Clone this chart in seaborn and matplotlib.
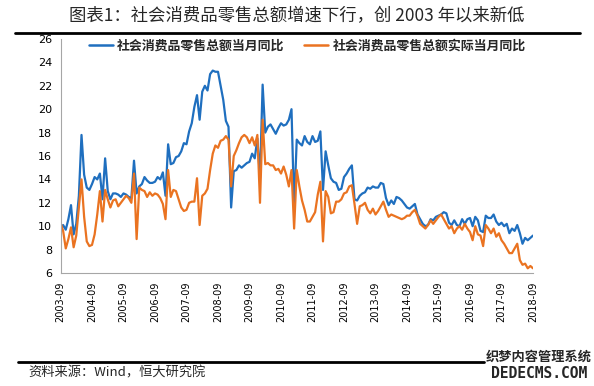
import matplotlib
matplotlib.use('Agg')
import matplotlib.pyplot as plt
from matplotlib.lines import Line2D
import seaborn as sns
import pandas as pd

# 月份 2003-09 ~ 2018-09
months = pd.period_range('2003-09', '2018-09', freq='M').strftime('%Y-%m').tolist()

# 社会消费品零售总额当月同比 (%)
nominal = [
    9.6, 10.1, 9.7, 10.6,
    11.8, 9.3, 10.2, 12.6, 17.8, 14.4, 13.3, 13.1, 13.6, 14.2, 14.0, 14.5,
    12.3, 15.8, 13.0, 12.3, 12.8, 12.8, 12.7, 12.5, 12.8, 12.7, 12.5, 12.4,
    15.6, 12.8, 13.4, 13.6, 14.2, 13.9, 13.7, 13.7, 13.8, 14.2, 14.0, 14.6,
    12.6, 17.0, 15.3, 15.4, 15.9, 16.0, 16.4, 17.1, 17.0, 18.1, 18.8, 20.2,
    21.2, 19.1, 21.5, 22.0, 21.6, 23.0, 23.3, 23.2, 23.2, 22.0, 20.8, 19.0,
    18.5, 11.6, 14.7, 14.8, 15.2, 15.0, 15.2, 15.4, 15.5, 16.2, 15.8, 17.5,
    14.1, 22.1, 18.0, 18.5, 18.7, 18.3, 17.9, 18.4, 18.8, 18.6, 18.7, 19.1,
    20.0, 11.6, 17.4, 17.1, 16.9, 17.7, 17.2, 17.0, 17.7, 17.2, 17.3, 18.1,
    13.1, 16.4, 15.2, 14.1, 13.8, 13.7, 13.1, 13.2, 14.2, 14.5, 14.9, 15.2,
    12.3, 12.2, 12.6, 12.8, 12.9, 13.3, 13.2, 13.4, 13.3, 13.3, 13.7, 13.6,
    12.4, 11.8, 12.2, 11.9, 12.5, 12.4, 12.2, 11.9, 11.6, 11.5, 11.7, 11.9,
    11.0, 10.6, 10.2, 10.0, 10.1, 10.6, 10.5, 10.8, 10.9, 11.0, 11.2, 11.1,
    10.3, 10.1, 10.5, 10.1, 10.0, 10.6, 10.2, 10.6, 10.7, 10.0, 10.8, 10.5,
    9.6, 9.5, 10.9, 10.7, 10.7, 11.0, 10.4, 10.1, 10.3, 10.0, 10.2, 9.4,
    9.8, 9.6, 10.1, 9.4, 8.5, 9.0, 8.8, 9.0, 9.2,
]

# 社会消费品零售总额实际当月同比 (%)
real = [
    10.3, 9.6, 8.1, 8.9,
    9.9, 8.2, 9.2, 11.6, 14.0, 10.8, 8.7, 8.3, 8.4, 9.3, 11.0, 13.0,
    10.4, 13.1, 12.3, 11.6, 12.2, 12.3, 11.7, 12.0, 12.3, 12.6, 12.4, 12.0,
    14.5, 8.9, 13.3, 13.1, 13.0, 12.5, 12.9, 12.6, 12.8, 12.7, 12.4, 11.9,
    10.6, 14.8, 12.5, 13.1, 13.0, 12.3, 11.6, 11.3, 11.4, 12.0, 12.1, 12.1,
    14.1, 10.1, 12.6, 12.8, 13.2, 14.8, 16.2, 16.9, 16.7, 17.3, 17.4, 17.7,
    17.4, 13.4, 16.0, 16.5, 17.1, 17.6, 17.8, 17.6, 17.1, 17.6, 16.9, 17.8,
    12.0, 19.1, 15.3, 15.4, 15.2, 15.2, 14.8, 14.9, 14.5, 15.1, 14.4, 13.4,
    14.8, 9.8, 14.8, 13.4, 12.2, 11.4, 10.4, 10.4, 10.8, 11.2, 12.7, 13.8,
    8.7, 13.0, 12.5, 11.1, 11.2, 12.1, 12.1, 12.3, 12.8, 12.9, 13.4, 13.5,
    11.9, 10.2, 11.7, 11.8, 12.0, 11.4, 11.1, 11.5, 11.0, 11.3, 11.7, 12.1,
    11.4, 10.8, 11.0, 10.9, 10.8, 10.7, 10.6, 10.7, 10.9, 10.9, 11.2, 11.4,
    10.9, 10.2, 10.0, 9.8, 10.1, 10.5, 10.2, 10.5, 10.8, 11.0, 10.6, 10.2,
    9.8, 10.0, 9.4, 9.8, 10.0, 9.7, 10.2, 9.8, 9.5, 8.8, 10.0, 9.3,
    9.2, 8.3, 10.1, 9.8, 9.4, 9.8, 9.1, 9.4, 8.8, 8.5, 8.1, 7.7,
    7.7, 8.1, 8.5, 7.1, 6.7, 6.8, 6.4, 6.6, 6.4,
]

series_names = ['社会消费品零售总额当月同比', '社会消费品零售总额实际当月同比']
colors = ['#1f6fbf', '#ea7321']

idx = list(range(len(months)))
df = pd.DataFrame({
    'idx': idx * 2,
    'value': nominal + real,
    'series': [series_names[0]] * len(idx) + [series_names[1]] * len(idx),
})

sns.set_style('white')
plt.rcParams['font.family'] = ['Noto Sans CJK SC', 'DejaVu Sans']
plt.rcParams['axes.unicode_minus'] = False

fig = plt.figure(figsize=(5.94, 3.86), dpi=100)
ax = fig.add_axes([60.5 / 594, 1 - 273 / 386, 472.5 / 594, 234 / 386])

sns.lineplot(data=df, x='idx', y='value', hue='series', hue_order=series_names,
             palette=colors, linewidth=1.6, ax=ax)

ax.set_xlim(0, 180)
ax.set_ylim(6, 26)
ax.set_yticks(range(6, 27, 2))
ax.set_xticks(idx[::12])
ax.set_xticklabels(months[::12], rotation=90)
ax.set_xlabel('')
ax.set_ylabel('')
for lab in ax.get_xticklabels():
    lab.set_fontfamily('DejaVu Sans')
    lab.set_fontsize(7)
for lab in ax.get_yticklabels():
    lab.set_fontfamily('DejaVu Sans')
    lab.set_fontsize(8)

for s in ['top', 'right']:
    ax.spines[s].set_visible(False)
for s in ['left', 'bottom']:
    ax.spines[s].set_color('#a6a6a6')
    ax.spines[s].set_linewidth(0.8)
ax.tick_params(axis='both', direction='out', length=4, width=0.8,
               color='#a6a6a6', labelcolor='black', pad=2)

leg = ax.legend(loc='center', bbox_to_anchor=(0.522, 0.97), ncol=2, frameon=False,
                prop=dict(family='Noto Sans CJK SC', weight='bold', size=9.3),
                handlelength=1.9, handletextpad=0.3, columnspacing=1.5)
for h in leg.get_lines():
    h.set_linewidth(1.8)

# 标题、分隔线、来源
fig.text(0.5, 1 - 16 / 386, '图表1：社会消费品零售总额增速下行，创 2003 年以来新低',
         ha='center', va='center', fontsize=12.5)
fig.add_artist(Line2D([15 / 594, 580 / 594], [1 - 33 / 386] * 2, color='black', lw=2))
fig.add_artist(Line2D([18 / 594, 484 / 594], [1 - 362 / 386] * 2, color='black', lw=2))
fig.text(28 / 594, 1 - 373 / 386, '资料来源：Wind，恒大研究院', ha='left', va='center',
         fontsize=9.5, style='italic')
fig.text(539 / 594, 1 - 357 / 386, '织梦内容管理系统', ha='center', va='center',
         fontsize=9.5, weight='bold')
fig.text(539 / 594, 1 - 373 / 386, 'DEDECMS.COM', ha='center', va='center',
         fontsize=10.5, weight='bold', family='DejaVu Sans Mono')

fig.savefig('out.png', dpi=100)
